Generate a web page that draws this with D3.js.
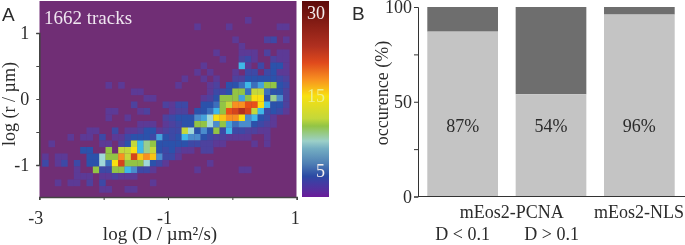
<!DOCTYPE html>
<html>
<head>
<meta charset="utf-8">
<style>
	html, body { margin: 0; padding: 0; background: #fff; }
	svg { display: block; filter: blur(0.4px); }
	text { font-family: "Liberation Serif", serif; fill: #2b2b2b; }
	.panel-letter { font-family: "Liberation Sans", sans-serif; font-size: 19px; }
	.axis-a path, .axis-a line { stroke: #444; }
	.axis-a text, .axis-b text { font-size: 18px; font-family: "Liberation Serif", serif; fill: #2b2b2b; }
</style>
</head>
<body>
<svg class="chart-container" width="685" height="245"></svg>
<script src="https://cdn.jsdelivr.net/npm/d3@7"></script>
<script>
// panel A: track counts per bin, one line per row from the top of the plot, 41 columns
const counts = [
	[0,0,0,0,0,0,0,0,0,0,0,0,0,0,0,0,0,0,0,0,0,0,0,0,0,0,0,0,0,0,0,0,0,0,0,0,0,0,0,0,0],
	[0,0,0,0,0,0,0,0,0,0,0,0,0,0,0,0,0,0,0,0,0,0,0,0,0,0,0,0,0,0,0,0,0,0,0,0,0,0,0,0,0],
	[0,0,0,0,0,0,0,0,0,0,0,0,0,0,0,0,0,0,0,0,0,0,0,0,0,0,0,0,0,0,0,0,1,0,0,0,0,0,0,0,0],
	[0,0,0,0,0,0,0,0,0,0,0,0,0,0,0,0,0,0,0,0,0,0,0,0,1,0,0,0,0,1,0,0,0,0,0,0,0,1,1,0,0],
	[0,0,0,0,0,0,0,0,0,0,0,0,0,0,0,0,0,0,0,0,0,0,0,0,0,0,0,0,0,0,0,0,0,0,0,0,0,0,0,0,0],
	[0,0,0,0,0,0,0,0,0,0,0,0,0,0,0,0,0,0,0,0,0,0,0,0,0,0,0,0,0,0,1,0,0,0,0,2,3,0,1,0,0],
	[0,0,0,0,0,0,0,0,0,0,0,0,0,0,0,0,0,0,0,0,0,0,0,0,0,0,0,0,0,0,0,1,0,0,0,0,0,0,0,0,0],
	[0,0,0,0,0,0,0,0,0,0,0,0,0,0,0,0,0,0,0,0,0,0,0,0,0,0,0,1,0,0,0,1,1,1,0,2,0,1,1,0,0],
	[0,0,0,0,0,0,0,0,0,0,0,0,0,0,0,0,0,0,0,0,0,0,0,0,0,0,0,0,1,0,0,2,3,1,0,0,2,1,1,0,0],
	[0,0,0,0,0,0,0,0,0,0,0,0,0,0,0,0,0,0,0,0,0,0,0,0,0,1,0,0,0,0,0,8,1,0,3,0,4,4,1,0,0],
	[0,0,0,0,0,0,0,0,0,0,0,0,0,0,0,0,0,0,0,0,0,0,0,0,1,0,1,0,0,0,1,0,3,3,0,3,4,1,1,0,0],
	[0,0,0,0,0,0,0,0,0,0,0,0,0,0,0,0,0,0,0,0,0,0,1,0,0,1,0,1,0,0,2,2,4,4,4,4,4,3,2,0,0],
	[0,0,0,0,0,0,0,0,0,0,1,0,1,0,0,0,0,0,0,0,0,1,0,0,0,0,1,2,0,4,4,5,8,5,7,11,11,4,3,0,0],
	[0,0,0,0,0,0,0,0,0,0,0,0,0,0,1,1,0,0,0,0,0,0,0,0,0,0,1,3,3,4,11,11,5,12,12,5,4,4,2,0,0],
	[0,0,0,0,0,0,0,0,0,0,0,0,0,0,0,0,1,1,0,0,0,0,0,0,0,1,2,4,11,11,11,7,11,15,15,4,10,6,2,0,0],
	[0,0,0,0,0,0,0,0,0,0,0,0,0,0,2,0,0,0,0,2,1,3,3,0,0,4,4,5,11,12,18,18,21,21,15,8,4,4,2,0,0],
	[0,0,0,0,0,0,0,0,0,0,1,1,0,0,0,1,2,0,0,0,1,2,2,0,4,4,5,8,11,21,22,24,22,12,8,3,4,3,1,0,0],
	[0,0,0,0,0,0,0,0,0,0,1,0,0,1,0,0,0,0,0,2,3,4,4,4,6,7,9,15,16,18,18,15,6,8,4,3,1,0,0,0,0],
	[0,0,0,0,0,0,0,0,0,0,0,0,0,0,0,1,1,1,0,1,2,3,4,4,11,11,9,6,11,7,5,6,6,4,3,2,1,0,0,0,0],
	[0,0,0,0,0,0,0,1,1,0,0,3,0,1,1,2,4,4,1,2,3,3,12,9,4,6,4,11,3,8,3,3,2,2,1,1,0,0,0,0,0],
	[0,0,0,0,1,0,1,1,0,3,0,1,1,3,4,4,4,3,7,4,3,4,8,6,6,4,3,2,2,1,1,1,1,0,0,1,0,0,0,0,0],
	[0,1,0,0,0,0,0,0,0,1,1,0,2,4,12,8,10,11,4,4,4,4,4,3,3,2,2,1,1,0,0,0,0,1,0,1,0,0,0,0,0],
	[0,0,0,0,0,0,4,4,0,0,11,0,12,12,15,8,10,12,4,3,4,2,1,1,0,2,2,0,0,0,0,0,0,0,0,0,0,0,0,0,0],
	[1,0,1,1,0,0,0,4,4,9,11,11,18,12,22,16,18,16,6,3,3,1,0,0,0,0,0,0,0,0,0,0,0,0,0,0,0,0,0,0,0],
	[3,0,1,3,0,3,0,4,4,9,5,15,22,11,11,11,9,4,3,1,0,0,0,0,0,0,1,0,0,0,0,0,0,0,0,0,0,0,0,0,0],
	[0,0,0,0,0,1,0,0,11,3,3,11,11,8,6,3,3,1,0,0,0,0,0,0,1,0,0,0,0,0,0,1,1,0,0,0,0,0,0,0,0],
	[0,0,0,0,0,1,1,1,0,1,1,2,1,1,1,0,0,0,0,0,0,0,0,0,0,0,0,0,0,0,0,0,0,0,0,0,0,0,0,0,0],
	[0,0,1,0,1,1,0,2,0,3,0,0,0,0,0,0,0,1,0,0,0,0,0,0,0,0,0,0,0,0,0,0,0,0,0,0,0,0,0,0,0],
	[0,0,0,0,0,0,0,0,0,1,1,0,0,1,1,0,0,0,0,0,0,0,0,0,0,0,0,0,0,0,0,0,0,0,0,0,0,0,0,0,0],
	[0,0,0,0,0,0,0,0,0,0,0,0,0,0,0,0,0,0,0,0,0,0,0,0,0,0,0,0,0,0,0,0,0,0,0,0,0,0,0,0,0],
	[0,0,0,0,0,0,0,0,0,0,1,0,0,0,0,0,0,0,0,0,0,0,0,0,0,0,0,0,0,0,0,0,0,0,0,0,0,0,0,0,0]
];
// log bin edges of the histogram (first column / first row start)
const binStartD = -2.956;
const binStartR = 1.44;
const binSize = 0.0985;

const xTickValues = [-3, -2, -1, 0, 1];
const xTickLabels = ['-3', '', '-1', '', '1'];
const yTickValues = [1, 0.5, 0, -0.5, -1];
const yTickLabels = ['1', '', '0', '', '-1'];

const colorValues = [0, 1, 3, 4, 6, 8, 9, 11, 12, 15, 18, 21, 24, 32];
const colorHexes = ['#6a1b9a', '#5c3a96', '#3d49a6', '#2b52ab', '#4a8ccc', '#3fb8e8', '#a0d8d8', '#92c445', '#c4d83a', '#f8e010', '#f89020', '#e85018', '#b03020', '#5c0a0a'];
// the printed bar is a bit duller than the cells around the blue/cyan part
const barHexes = ['#6a1b9a', '#5c2a9c', '#3d3ea4', '#2b4aa4', '#4f7fb4', '#74aec2', '#9cd0c8', '#92c445', '#c4d83a', '#f8e010', '#f89020', '#e04a1c', '#b03020', '#5c0a0a'];
const barLabels = [30, 15, 5];

// panel B
const categories = ['mEos2-PCNA D<0.1', 'mEos2-PCNA D>0.1', 'mEos2-NLS'];
const lowerShare = [87, 54, 96];
const percentLabels = ['87%', '54%', '96%'];
const bTickValues = [0, 25, 50, 75, 100];
const bTickLabels = ['0', '', '50', '', '100'];

const heat = { left: 39.3, right: 296.7, top: 1, bottom: 197 };
const bar = { left: 302, right: 329, top: 1, bottom: 197 };
const panelB = { left: 418, right: 685, top: 7, bottom: 196.5 };

const svg = d3.select('.chart-container');

/** PANEL A **/
const x = d3.scaleLinear().domain([-3, 1]).range([heat.left, heat.right]);
const y = d3.scaleLinear().domain([-1, 1]).range([165, 33]);
const color = d3.scaleLinear().domain(colorValues).range(colorHexes).clamp(true);

svg.append('clipPath').attr('id', 'heat-clip')
	.append('rect')
	.attr('x', heat.left).attr('y', heat.top)
	.attr('width', heat.right - heat.left).attr('height', heat.bottom - heat.top);

const heatArea = svg.append('g').attr('clip-path', 'url(#heat-clip)');
heatArea.append('rect')
	.attr('x', heat.left).attr('y', heat.top)
	.attr('width', heat.right - heat.left).attr('height', heat.bottom - heat.top)
	.attr('fill', '#702e75');

const cells = [];
counts.forEach((row, r) => row.forEach((count, c) => {
	if (count > 0) cells.push({ r: r, c: c, count: count });
}));

heatArea.selectAll('.cell')
	.data(cells)
	.enter()
	.append('rect')
	.attr('class', 'cell')
	.attr('x', d => x(binStartD + d.c * binSize))
	.attr('y', d => y(binStartR - d.r * binSize))
	.attr('width', x(binSize) - x(0) + 0.2)
	.attr('height', y(0) - y(binSize) + 0.2)
	.attr('fill', d => color(d.count));

const axisBottomA = svg.append('g')
	.attr('class', 'axis-a')
	.attr('transform', 'translate(0,' + heat.bottom + ')')
	.call(d3.axisBottom(x)
		.tickValues(xTickValues)
		.tickFormat((d, i) => xTickLabels[i])
		.tickSize(3)
		.tickPadding(11));
// the minus sign hangs off to the left of the tick
axisBottomA.selectAll('.tick text').attr('dx', d => d < 0 ? -4 : -2);
const axisLeftA = svg.append('g')
	.attr('class', 'axis-a')
	.attr('transform', 'translate(' + heat.left + ',0)')
	.call(d3.axisLeft(y)
		.tickValues(yTickValues)
		.tickFormat((d, i) => yTickLabels[i])
		.tickSize(3)
		.tickPadding(7));
axisBottomA.select('.domain').attr('stroke', '#8c8c8c').attr('stroke-width', 1.6);
axisLeftA.select('.domain').attr('stroke', '#8c8c8c').attr('stroke-width', 1.6);

svg.append('text')
	.attr('x', 44).attr('y', 24)
	.style('font-size', '19px')
	.style('fill', '#efe6f0')
	.text('1662 tracks');

svg.append('text')
	.attr('x', 160).attr('y', 240)
	.attr('text-anchor', 'middle')
	.style('font-size', '19px')
	.text('log (D / µm²/s)');

svg.append('text')
	.attr('transform', 'translate(15,104) rotate(-90)')
	.attr('text-anchor', 'middle')
	.style('font-size', '18px')
	.text('log (r / µm)');

svg.append('text').attr('class', 'panel-letter').attr('x', 2).attr('y', 21).text('A');

// color bar, the printed labels are not evenly spaced so the position scale has knots
const barY = d3.scaleLinear().domain([0, 5, 15, 30, 32]).range([bar.bottom, 171, 96, 13, bar.top]);

const gradient = svg.append('linearGradient')
	.attr('id', 'bar-gradient')
	.attr('gradientUnits', 'userSpaceOnUse')
	.attr('x1', 0).attr('x2', 0)
	.attr('y1', barY(0)).attr('y2', barY(32));
gradient.selectAll('stop')
	.data(colorValues)
	.enter()
	.append('stop')
	.attr('offset', d => (barY(0) - barY(d)) / (barY(0) - barY(32)))
	.attr('stop-color', (d, i) => barHexes[i]);

svg.append('rect')
	.attr('x', bar.left).attr('y', bar.top)
	.attr('width', bar.right - bar.left).attr('height', bar.bottom - bar.top)
	.attr('fill', 'url(#bar-gradient)');

svg.selectAll('.bar-label')
	.data(barLabels)
	.enter()
	.append('text')
	.attr('class', 'bar-label')
	.attr('x', 325)
	.attr('y', d => barY(d) + 6)
	.attr('text-anchor', 'end')
	.style('font-size', '18px')
	.style('fill', d => d === 15 ? '#eef08a' : '#f4eeee')
	.text(d => d);

/** PANEL B **/
const xB = d3.scaleBand().domain(categories).range([427.3, 674.7]).paddingInner(0.2).paddingOuter(0);
const yB = d3.scaleLinear().domain([0, 100]).range([panelB.bottom, panelB.top]);

svg.selectAll('.bar-upper')
	.data(categories)
	.enter()
	.append('rect')
	.attr('class', 'bar-upper')
	.attr('x', d => xB(d))
	.attr('y', yB(100))
	.attr('width', xB.bandwidth())
	.attr('height', (d, i) => yB(lowerShare[i]) - yB(100))
	.attr('fill', '#6e6e6e');

svg.selectAll('.bar-lower')
	.data(categories)
	.enter()
	.append('rect')
	.attr('class', 'bar-lower')
	.attr('x', d => xB(d))
	.attr('y', (d, i) => yB(lowerShare[i]))
	.attr('width', xB.bandwidth())
	.attr('height', (d, i) => yB(0) - yB(lowerShare[i]))
	.attr('fill', '#c4c4c4');

svg.selectAll('.percent')
	.data(categories)
	.enter()
	.append('text')
	.attr('class', 'percent')
	.attr('x', d => xB(d) + xB.bandwidth() / 2)
	.attr('y', 132)
	.attr('text-anchor', 'middle')
	.style('font-size', '18px')
	.text((d, i) => percentLabels[i]);

const axisLeftB = svg.append('g')
	.attr('class', 'axis-b')
	.attr('transform', 'translate(' + panelB.left + ',0)')
	.call(d3.axisLeft(yB)
		.tickValues(bTickValues)
		.tickFormat((d, i) => bTickLabels[i])
		.tickSize(4)
		.tickPadding(2));
axisLeftB.selectAll('path, line').attr('stroke', '#333');

svg.append('line')
	.attr('x1', panelB.left).attr('x2', panelB.right)
	.attr('y1', yB(0)).attr('y2', yB(0))
	.attr('stroke', '#333');

svg.append('text')
	.attr('transform', 'translate(388,93) rotate(-90)')
	.attr('text-anchor', 'middle')
	.style('font-size', '18px')
	.text('occurence (%)');

svg.append('text').attr('x', 511.7).attr('y', 218).attr('text-anchor', 'middle').style('font-size', '18px').text('mEos2-PCNA');
svg.append('text').attr('x', 639).attr('y', 218).attr('text-anchor', 'middle').style('font-size', '18px').text('mEos2-NLS');
svg.append('text').attr('x', 462.7).attr('y', 240).attr('text-anchor', 'middle').style('font-size', '18px').text('D < 0.1');
svg.append('text').attr('x', 551.7).attr('y', 240).attr('text-anchor', 'middle').style('font-size', '18px').text('D > 0.1');

svg.append('text').attr('class', 'panel-letter').attr('x', 352).attr('y', 20).text('B');
</script>
</body>
</html>
